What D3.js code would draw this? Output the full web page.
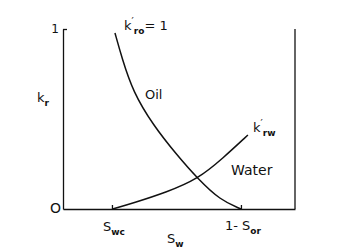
<!DOCTYPE html>
<html>
<head>
<meta charset="utf-8">
<script src="https://cdn.jsdelivr.net/npm/d3@7"></script>
<style>
  body { margin: 0; background: #fff; }
  text { font-family: 'DejaVu Sans', sans-serif; fill: #111; }
  .line { fill: none; stroke: #111; stroke-width: 1.5px; }
  .axis path, .axis line { stroke: #111; stroke-width: 1.3px; }
</style>
</head>
<body>
<div id="chart"></div>
<script>
// end points on the Sw axis
var swc = 0.211
var oneMinusSor = 0.767

// oil relative permeability
var oilSw = [0.224, 0.254, 0.302, 0.388, 0.491, 0.582, 0.677, 0.767]
var oilKr = [0.978, 0.839, 0.65, 0.467, 0.3, 0.167, 0.05, 0]

// water relative permeability
var waterSw = [0.214, 0.302, 0.448, 0.582, 0.690, 0.797]
var waterKr = [0, 0.033, 0.094, 0.167, 0.283, 0.411]

var svg = d3.select('#chart').append('svg')
  .attr('width', 343).attr('height', 249)

var x = d3.scaleLinear().domain([0, 1]).range([63, 295])
var y = d3.scaleLinear().domain([0, 1]).range([209, 29])

var yAxis = d3.axisLeft(y).tickValues([1]).tickSize(-4).tickSizeOuter(0).tickPadding(4).tickFormat(d3.format('d'))
svg.append('g').attr('class', 'axis').attr('transform', 'translate(' + x(0) + ',0)')
  .call(yAxis)
  .selectAll('text').style('font-size', '12px').attr('font-family', null)

var xAxis = d3.axisBottom(x).tickValues([swc, oneMinusSor]).tickSize(-4).tickSizeOuter(0).tickFormat('')
svg.append('g').attr('class', 'axis').attr('transform', 'translate(0,' + y(0) + ')')
  .call(xAxis)

// right border
svg.append('line')
  .attr('x1', x(1)).attr('x2', x(1)).attr('y1', y(0)).attr('y2', y(1))
  .attr('stroke', '#111').attr('stroke-width', 1.3)

var line = d3.line().x(d => x(d[0])).y(d => y(d[1])).curve(d3.curveBasis)

svg.append('path').attr('class', 'line').attr('d', line(d3.zip(oilSw, oilKr)))
svg.append('path').attr('class', 'line').attr('d', line(d3.zip(waterSw, waterKr)))

function label(px, py, main, sub, prime, size) {
  var t = svg.append('text').attr('x', px).attr('y', py).style('font-size', (size || 13) + 'px')
  t.append('tspan').text(main)
  if (prime) t.append('tspan').attr('dy', -5).style('font-size', '10px').text('\u2032')
  if (sub) t.append('tspan').attr('dy', prime ? 9 : 4)
    .style('font-size', '9px').style('font-weight', 'bold').text(sub)
  return t
}

label(50, 213, 'O', null, false, 14)
label(37, 102, 'k', 'r')
label(103, 231, 'S', 'wc')
label(167, 243, 'S', 'w')
label(225, 230, '1- S', 'or')
label(145, 99, 'Oil')
label(231, 175, 'Water', null, false, 14)
var kro = label(124, 30, 'k', 'ro', true)
kro.append('tspan').attr('dy', -4).text('= 1')
label(253, 132, 'k', 'rw', true)
</script>
</body>
</html>
